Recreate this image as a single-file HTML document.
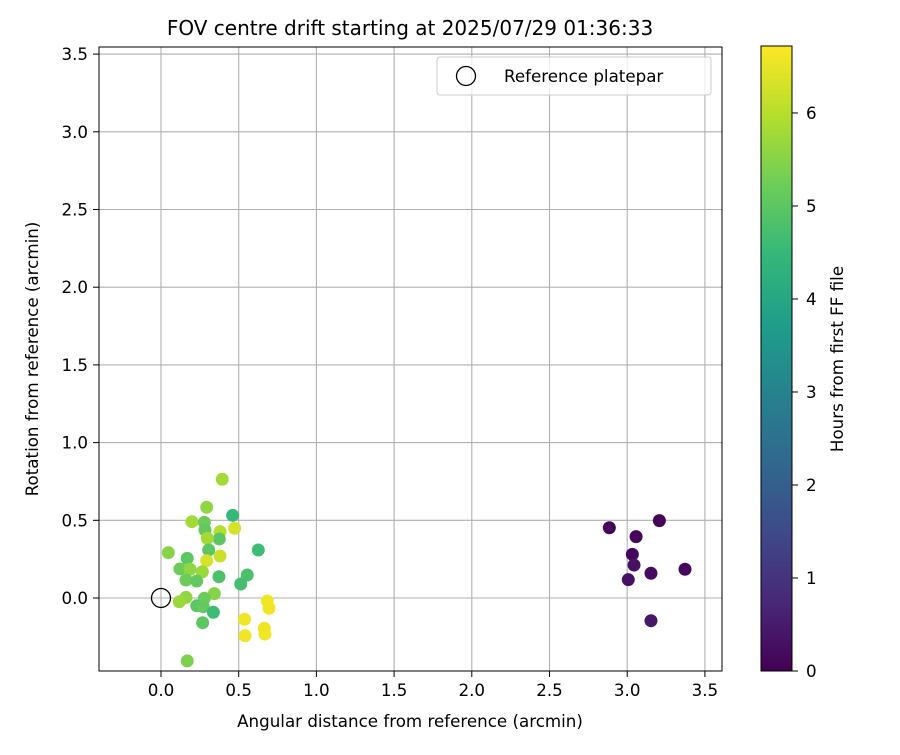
<!DOCTYPE html>
<html><head><meta charset="utf-8"><style>
body{margin:0;background:#fff;}
svg{font-family:"DejaVu Sans","Liberation Sans",sans-serif;}
</style></head><body>
<svg width="900" height="750" viewBox="0 0 900 750">
<g id="grid"></g>
<g id="pts"></g>
<rect x="99" y="47" width="623" height="624" fill="none" stroke="#000" stroke-width="1"/>
<g id="ticks"></g>
<text x="410" y="35" font-size="20" text-anchor="middle">FOV centre drift starting at 2025/07/29 01:36:33</text>
<text x="410" y="727" font-size="16.7" text-anchor="middle">Angular distance from reference (arcmin)</text>
<text transform="translate(38,359) rotate(-90)" font-size="16.7" text-anchor="middle">Rotation from reference (arcmin)</text>
<g>
<rect x="437" y="57" width="274" height="38" rx="3" fill="#fff" fill-opacity="0.8" stroke="#ccc"/>
<circle cx="466" cy="76" r="9.5" fill="none" stroke="#000" stroke-width="1.3"/>
<text x="504" y="82" font-size="16.7">Reference platepar</text>
</g>
<defs><linearGradient id="vir" x1="0" y1="1" x2="0" y2="0"></linearGradient></defs>
<rect x="761" y="46" width="31" height="625" fill="url(#vir)" stroke="#000" stroke-width="1"/>
<g id="cbt"></g>
<text transform="translate(843,359) rotate(-90)" font-size="16.7" text-anchor="middle">Hours from first FF file</text>
</svg>
<script>
const xTicks=[0,0.5,1,1.5,2,2.5,3,3.5];
const yTicks=[0,0.5,1,1.5,2,2.5,3,3.5];
const cTicks=[0,1,2,3,4,5,6];
const xs=[0.394,0.294,0.461,0.199,0.279,0.474,0.283,0.380,0.375,0.298,0.626,0.307,0.047,0.380,0.294,0.169,0.122,0.187,0.266,0.161,0.230,0.373,0.555,0.513,0.343,0.161,0.118,0.279,0.230,0.272,0.337,0.684,0.695,0.538,0.268,0.665,0.669,0.541,0.169,2.885,3.207,3.057,3.033,3.044,3.153,3.372,3.007,3.153];
const ys=[0.764,0.584,0.532,0.491,0.487,0.449,0.437,0.427,0.380,0.384,0.309,0.309,0.292,0.270,0.240,0.255,0.187,0.185,0.169,0.116,0.109,0.137,0.148,0.090,0.028,0.004,-0.024,-0.002,-0.050,-0.056,-0.092,-0.019,-0.066,-0.137,-0.159,-0.195,-0.232,-0.243,-0.405,0.452,0.498,0.395,0.281,0.212,0.159,0.185,0.118,-0.146];
const hours=[5.8,5.6,4.5,5.8,5.2,6.3,5.1,6.0,5.0,5.8,4.6,5.0,5.5,6.2,6.3,5.0,5.2,5.6,5.7,5.2,5.1,4.8,4.8,4.7,5.5,5.6,5.7,5.2,5.0,5.1,4.6,6.6,6.6,6.6,5.0,6.6,6.6,6.6,5.4,0.1,0.1,0.1,0.15,0.3,0.2,0.15,0.3,0.4];
const X=v=>161+v*155.4, Y=v=>598-v*155.4;
const cMax=6.72, CY=v=>671-v/cMax*625;
const vir=[[68,1,84],[72,40,120],[62,74,137],[49,104,142],[38,130,142],[31,158,137],[53,183,121],[109,205,89],[180,222,44],[253,231,37]];
function col(h){let t=Math.max(0,Math.min(1,h/cMax))*(vir.length-1);let i=Math.min(Math.floor(t),vir.length-2),f=t-i;const c=vir[i].map((a,k)=>Math.round(a+(vir[i+1][k]-a)*f));return `rgb(${c})`;}
const NS="http://www.w3.org/2000/svg";
function mk(tag,attrs,parent){const e=document.createElementNS(NS,tag);for(const k in attrs)e.setAttribute(k,attrs[k]);parent.appendChild(e);return e;}
const grid=document.getElementById('grid'),ticks=document.getElementById('ticks');
xTicks.forEach(v=>{const x=X(v);
const g=mk('line',{x1:x,x2:x,y1:47,y2:671,stroke:'#b0b0b0','stroke-width':1.1},grid);


const t=mk('line',{x1:x,x2:x,y1:671,y2:677,stroke:'#000'},ticks);


const l=mk('text',{x:x,y:696,'font-size':16.7,'text-anchor':'middle'},ticks);l.textContent=v.toFixed(1);

});
yTicks.forEach(v=>{const y=Y(v);
const g=mk('line',{x1:99,x2:722,y1:y,y2:y,stroke:'#b0b0b0','stroke-width':1.1},grid);


const t=mk('line',{x1:93,x2:99,y1:y,y2:y,stroke:'#000'},ticks);


const l=mk('text',{x:88,y:y+6,'font-size':16.7,'text-anchor':'end'},ticks);l.textContent=v.toFixed(1);

});
const pts=document.getElementById('pts');
xs.forEach((v,i)=>{const c=mk('circle',{cx:X(v),cy:Y(ys[i]),r:6.5,fill:col(hours[i])},pts);

});
const ref=mk('circle',{cx:X(0),cy:Y(0),r:9.5,fill:'none',stroke:'#000','stroke-width':1.3},pts);


const grad=document.getElementById('vir');
vir.forEach((c,i)=>{mk('stop',{offset:(i/(vir.length-1)),'stop-color':`rgb(${c})`},grad);});
const cbt=document.getElementById('cbt');
cTicks.forEach(v=>{const y=CY(v);
const t=mk('line',{x1:792,x2:798,y1:y,y2:y,stroke:'#000'},cbt);


const l=mk('text',{x:806,y:y+6,'font-size':16.7},cbt);l.textContent=v;

});
</script>
</body></html>
